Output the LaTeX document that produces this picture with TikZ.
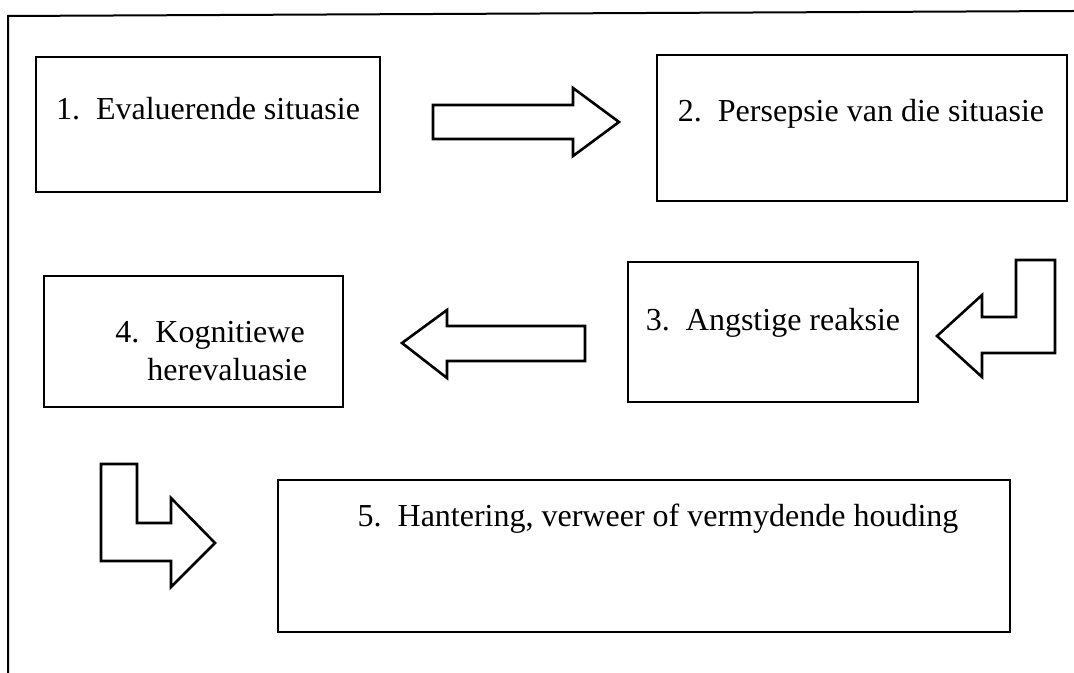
\documentclass[tikz,border=0pt]{standalone}
\usepackage{fontspec}
\setmainfont{Liberation Serif}
\usepackage{tikz}
\usetikzlibrary{positioning}

\begin{document}
\begin{tikzpicture}[x=0.5pt, y=-0.5pt,
    every node/.style={font=\fontsize{16}{19}\selectfont, inner sep=0pt},
    stage/.style={draw, line width=1pt},
    blockarr/.style={draw, line width=1.3pt, fill=white, line join=miter}]
\useasboundingbox (0,0) rectangle (1074,673);

% frame
\draw[line width=1pt] (8,673) -- (8,16) -- (1074,11);

% boxes
\node[stage, minimum width=172pt, minimum height=67.5pt] (eval) at (208,124.5) {};
\node[stage, minimum width=205pt, minimum height=73pt] (persep) at (862,128) {};
\node[stage, minimum width=145pt, minimum height=70pt] (angs) at (773,332) {};
\node[stage, minimum width=149.5pt, minimum height=65.5pt] (herev) at (193.5,341.5) {};
\node[stage, minimum width=366pt, minimum height=76pt] (hant) at (644,556) {};

% texts
\node[anchor=base] (evalt) at (208,120) {1.\enspace Evaluerende situasie};
\node[anchor=base] (persept) at (861,122) {2.\enspace Persepsie van die situasie};
\node[anchor=base] (angst) at (773,330) {3.\enspace Angstige reaksie};
\node[anchor=west, align=left] (herevt) at (115,351)
    {4.\enspace Kognitiewe\\\hspace*{1em}herevaluasie};
\node[anchor=base] (hantt) at (658,526)
    {5.\enspace Hantering, verweer of vermydende houding};

% block arrows
\draw[blockarr] (433,105) -- (573,105) -- (573,88) -- (619,122)
    -- (573,156) -- (573,139) -- (433,139) -- cycle;
\draw[blockarr] (1016,260) -- (1055,260) -- (1055,353) -- (982,353)
    -- (982,377) -- (937,336) -- (982,295) -- (982,317) -- (1016,317) -- cycle;
\draw[blockarr] (585,326) -- (447,326) -- (447,310) -- (402,343)
    -- (447,378) -- (447,361) -- (585,361) -- cycle;
\draw[blockarr] (101,464) -- (137,464) -- (137,523) -- (171,523)
    -- (171,498) -- (215,543) -- (171,587) -- (171,561) -- (101,561) -- cycle;
\end{tikzpicture}
\end{document}
